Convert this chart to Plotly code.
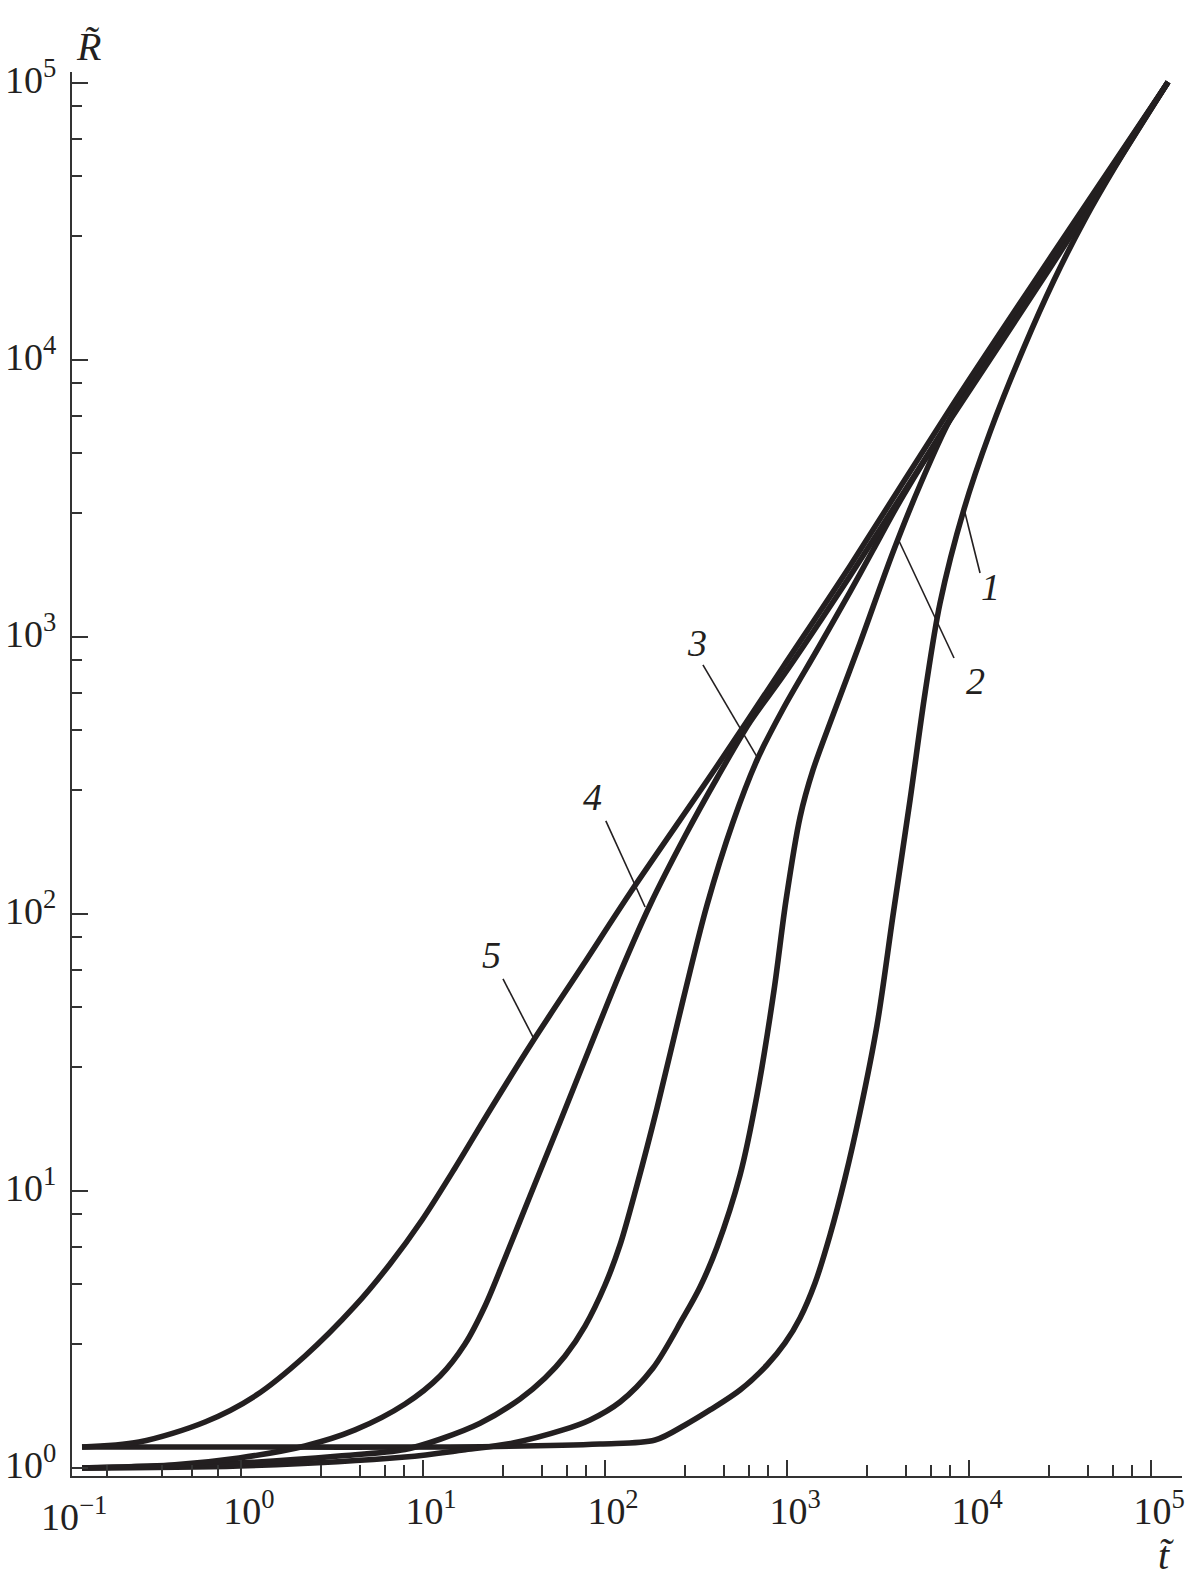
import math
import plotly.graph_objects as go

# ---------------- data ----------------
curve1_t = [0.1338, 1.121, 14.07, 93.87, 188.3, 275.2, 377.6, 551.9, 776.5, 975.0, 1179, 1425, 1723, 2083,
            2518, 3123, 3823, 4741, 5731, 6929, 9387, 13040, 19900, 29240, 42940, 63100, 124000]
curve1_R = [1.191, 1.191, 1.191, 1.221, 1.262, 1.430, 1.620, 1.912, 2.354, 2.827, 3.480, 4.655, 6.937, 11.14,
            19.28, 39.75, 99.18, 258.0, 627.9, 1327, 2898, 5490, 10990, 19360, 31860, 49490, 100800]

curve2_t = [0.1338, 0.975, 7.963, 16.59, 31.23, 58.78, 82.72, 120.9, 183.5, 268.3, 332.7, 412.6, 551.9, 684.1,
            848.4, 987.4, 1179, 1389, 1789, 2518, 3823, 5381, 7864, 14800, 27870, 52460, 124000]
curve2_R = [1.0, 1.017, 1.096, 1.161, 1.231, 1.372, 1.491, 1.731, 2.296, 3.480, 4.502, 6.279, 11.42, 22.21,
            53.16, 112.3, 223.9, 331.1, 522.9, 951.2, 2027, 3538, 6100, 12150, 22600, 42800, 100800]

curve3_t = [0.1338, 0.975, 3.454, 7.963, 12.40, 20.57, 34.12, 46.81, 60.28, 77.64, 100.0, 120.9, 149.9, 193.1,
            268.3, 363.4, 505.0, 684.1, 950.6, 1462, 2219, 2969, 4178, 7864, 14800, 27870, 124000]
curve3_R = [1.0, 1.042, 1.105, 1.167, 1.270, 1.450, 1.775, 2.113, 2.537, 3.255, 4.578, 6.384, 10.51, 19.94,
            48.93, 107.8, 214.8, 359.7, 549.7, 897.6, 1454, 2061, 3097, 6124, 11800, 22200, 100800]

curve4_t = [0.1338, 0.4177, 0.975, 2.247, 4.231, 7.963, 12.40, 17.01, 21.91, 28.22, 38.71, 56.58, 82.72, 120.9,
            176.7, 275.2, 412.6, 626.2, 950.6, 2219, 7864, 27870, 124000]
curve4_R = [1.0, 1.025, 1.087, 1.201, 1.372, 1.702, 2.148, 2.803, 3.845, 5.731, 9.592, 17.75, 33.11, 61.24,
            107.8, 191.2, 309.7, 493.3, 723.0, 1661, 6073, 21490, 100800]

curve5_t = [0.1338, 0.2752, 0.6342, 1.194, 2.247, 4.231, 6.587, 9.874, 14.99, 23.34, 40.21, 75.70, 137.2, 412.6,
            950.6, 2219, 7864, 27870, 124000]
curve5_R = [1.191, 1.241, 1.466, 1.819, 2.537, 3.845, 5.451, 7.859, 12.11, 19.61, 34.79, 65.44, 119.1, 342.1,
            779.3, 1804, 6655, 23350, 100800]

curve_names = ["1", "2", "3", "4", "5"]

# curve labels: label position and leader line (start near label, end on curve)
label_t = [13040, 10790, 320, 84.8, 23.9]
label_R = [1517, 693, 951, 264, 71.1]
leader_t0 = [11490, 8270, 345, 101, 27.5]
leader_R0 = [1702, 840, 793, 217, 58.3]
leader_t1 = [9390, 4125, 684, 166, 40.7]
leader_R1 = [2897, 2221, 369, 106, 35.4]

x_major = [1, 10, 100, 1000, 10000, 100000]
x_major_text = ["10<sup>0</sup>", "10<sup>1</sup>", "10<sup>2</sup>", "10<sup>3</sup>", "10<sup>4</sup>", "10<sup>5</sup>"]
x_first_label = "10<sup>\u22121</sup>"
x_minor = [0.184, 0.368, 0.538, 0.748,
           2.75, 4.5, 6.15, 7.9,
           27.5, 45, 61.5, 79,
           275, 450, 615, 790,
           2750, 4500, 6150, 7900,
           27500, 45000, 61500, 79000]
y_major = [1, 10, 100, 1000, 10000, 100000]
y_major_text = ["10<sup>0</sup>", "10<sup>1</sup>", "10<sup>2</sup>", "10<sup>3</sup>", "10<sup>4</sup>", "10<sup>5</sup>"]
y_minor = [2.8, 4.6, 6.3, 8.25,
           28, 46, 63, 82.5,
           280, 460, 630, 825,
           2800, 4600, 6300, 8250,
           28000, 46000, 63000, 82500]

# ---------------- figure ----------------
FONT = "Liberation Serif"
INK = "#231f20"
AX = "#333333"
X_RANGE = [-0.9286, 5.170]
Y_RANGE = [-0.0289, 5.0397]

fig = go.Figure()
curves = [(curve1_t, curve1_R), (curve2_t, curve2_R), (curve3_t, curve3_R),
          (curve4_t, curve4_R), (curve5_t, curve5_R)]
for name, (t, R) in zip(curve_names, curves):
    fig.add_trace(go.Scatter(x=t, y=R, mode="lines", name=name,
                             line=dict(color=INK, width=5.6, shape="spline", smoothing=0.9),
                             hoverinfo="skip", showlegend=False))

for i in range(len(curve_names)):
    fig.add_trace(go.Scatter(x=[leader_t0[i], leader_t1[i]], y=[leader_R0[i], leader_R1[i]],
                             mode="lines", line=dict(color=INK, width=1.6),
                             hoverinfo="skip", showlegend=False))

annotations = []
for i, name in enumerate(curve_names):
    annotations.append(dict(x=math.log10(label_t[i]), y=math.log10(label_R[i]), xref="x", yref="y",
                            text="<i>%s</i>" % name, showarrow=False,
                            font=dict(family=FONT, size=38, color=INK),
                            xanchor="center", yanchor="middle"))

# 10^-1 label lies just left of where the axis starts
first_paper_x = (math.log10(0.1) - X_RANGE[0]) / (X_RANGE[1] - X_RANGE[0])
annotations.append(dict(x=first_paper_x, y=0, xref="paper", yref="paper", text=x_first_label,
                        showarrow=False, font=dict(family=FONT, size=38, color=INK),
                        xanchor="center", yanchor="top", xshift=15, yshift=-12))
# axis titles
annotations.append(dict(x=0.0145, y=1.0185, xref="paper", yref="paper", text="<i>R\u0303</i>",
                        showarrow=False, font=dict(family=FONT, size=40, color=INK),
                        xanchor="center", yanchor="middle"))
annotations.append(dict(x=0.9856, y=-0.0563, xref="paper", yref="paper", text="<i>t\u0303</i>",
                        showarrow=False, font=dict(family=FONT, size=40, color=INK),
                        xanchor="center", yanchor="middle"))

axis_common = dict(type="log", showline=True, linecolor=AX, linewidth=2,
                   ticks="inside", tickwidth=2, tickcolor=AX, ticklen=16,
                   showgrid=False, zeroline=False, automargin=False,
                   tickfont=dict(family=FONT, size=38, color=INK),
                   tickmode="array", ticklabeloverflow="allow")

fig.update_layout(
    width=1187, height=1587,
    margin=dict(l=72, r=5, t=72, b=111, autoexpand=False),
    paper_bgcolor="white", plot_bgcolor="white",
    template="none",
    xaxis=dict(axis_common, range=X_RANGE, tickvals=x_major, ticktext=x_major_text,
               ticklabelshift=8, ticklabelstandoff=0,
               minor=dict(tickmode="array", tickvals=x_minor, ticks="inside", ticklen=11,
                          tickwidth=2, tickcolor=AX, showgrid=False)),
    yaxis=dict(axis_common, range=Y_RANGE, tickvals=y_major, ticktext=y_major_text,
               ticklabelstandoff=6, ticklabelshift=-3,
               minor=dict(tickmode="array", tickvals=y_minor, ticks="inside", ticklen=10,
                          tickwidth=2, tickcolor=AX, showgrid=False)),
    annotations=annotations,
)

fig.write_html("out.html", config={"displayModeBar": False},
               post_script="document.body.style.margin='0';")
